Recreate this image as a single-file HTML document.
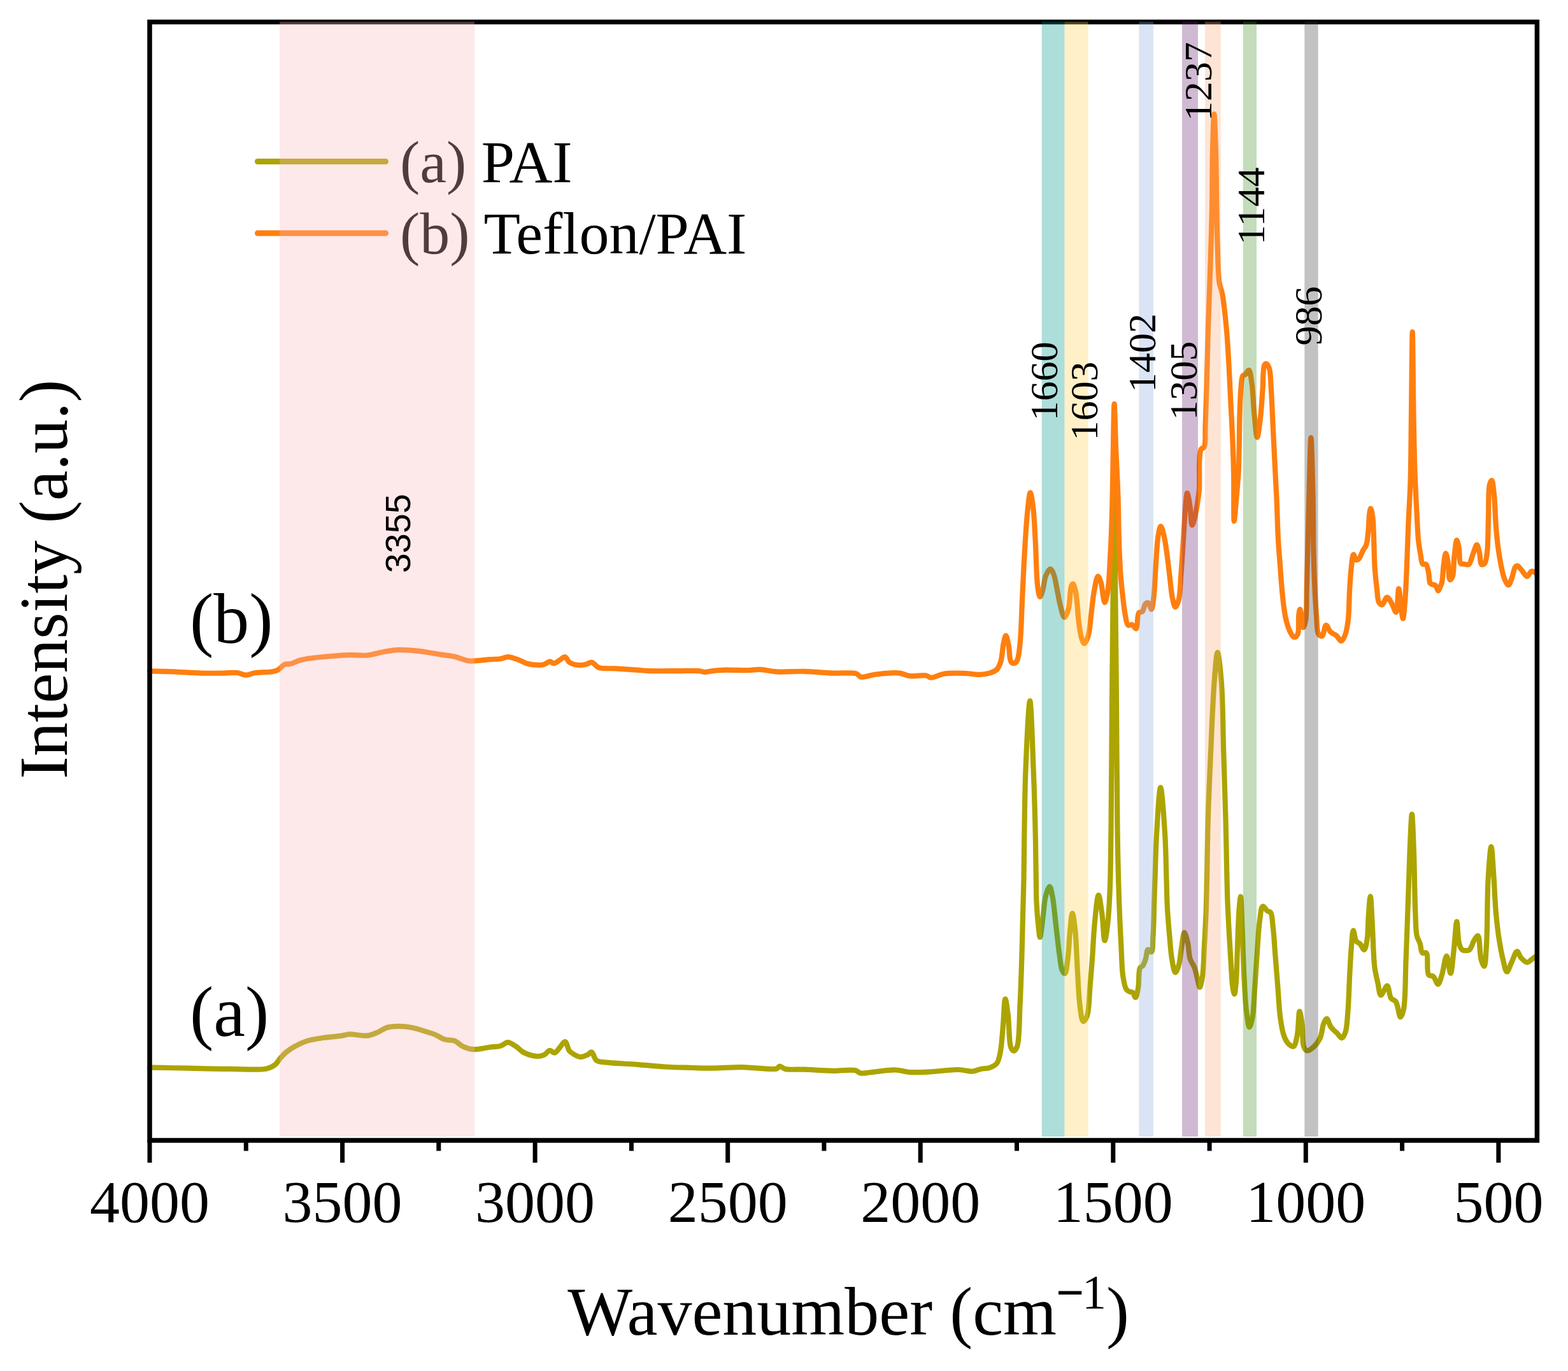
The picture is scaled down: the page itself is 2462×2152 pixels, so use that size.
<!DOCTYPE html>
<html><head><meta charset="utf-8"><style>
html,body{margin:0;padding:0;background:#fff;}
svg{display:block;}
text{font-family:"Liberation Serif","Times New Roman",serif;fill:#000;}
</style></head><body>
<svg width="2462" height="2152" viewBox="0 0 2462 2152">
<rect x="0" y="0" width="2462" height="2152" fill="#fff"/>

<path d="M235.0,1675.6C235.0,1675.6 275.1,1676.3 295.8,1676.7C317.3,1677.1 340.5,1677.7 361.7,1677.8C381.4,1677.9 406.7,1680.2 418.8,1677.4C424.9,1676.0 428.2,1674.1 431.9,1671.2C435.5,1668.3 437.7,1663.6 440.7,1660.2C443.5,1657.0 446.1,1654.3 449.5,1651.5C453.3,1648.4 457.7,1645.4 462.7,1642.7C468.5,1639.5 475.5,1636.1 482.4,1633.9C489.4,1631.7 496.3,1630.8 504.4,1629.5C514.2,1627.9 529.3,1626.9 537.3,1625.6C542.0,1624.9 543.8,1623.7 548.3,1623.4C555.6,1623.0 568.8,1626.5 576.8,1625.6C582.8,1624.9 587.2,1622.8 592.2,1620.7C597.4,1618.6 602.1,1614.6 607.5,1613.0C613.0,1611.3 618.9,1611.0 625.1,1610.9C632.0,1610.8 639.7,1611.6 647.0,1613.0C654.6,1614.4 663.4,1617.6 670.0,1619.6C675.0,1621.2 678.7,1622.1 683.2,1624.0C688.2,1626.1 693.3,1630.1 698.5,1631.7C703.5,1633.3 709.2,1632.1 713.9,1633.9C718.7,1635.7 722.4,1640.5 727.1,1642.7C731.9,1644.9 736.6,1646.6 742.4,1647.1C750.0,1647.7 760.9,1644.8 768.8,1643.8C775.2,1643.0 781.3,1643.1 786.3,1641.6C790.5,1640.3 793.5,1636.1 797.3,1636.1C801.5,1636.1 806.4,1640.1 810.5,1642.7C814.5,1645.2 816.8,1649.1 821.4,1651.5C827.2,1654.6 837.3,1657.7 843.4,1658.0C847.7,1658.2 851.1,1657.3 854.4,1655.8C857.7,1654.3 860.3,1649.1 863.2,1648.8C865.7,1648.5 868.4,1653.0 870.8,1652.6C873.5,1652.2 875.9,1647.7 878.5,1644.9C881.4,1641.8 884.8,1634.6 887.3,1635.0C890.0,1635.4 891.0,1645.7 893.9,1649.3C896.3,1652.3 899.7,1654.1 902.7,1655.8C905.5,1657.3 908.3,1659.0 911.4,1659.1C914.8,1659.2 919.3,1657.2 922.4,1655.8C925.0,1654.6 926.9,1651.0 929.0,1651.5C931.9,1652.2 932.7,1661.8 936.7,1664.6C941.1,1667.7 947.8,1667.0 955.3,1667.9C966.8,1669.3 984.6,1669.7 999.2,1670.8C1013.8,1671.9 1028.5,1673.6 1043.1,1674.5C1057.7,1675.4 1073.5,1675.6 1087.0,1676.0C1098.5,1676.3 1107.3,1676.8 1118.9,1676.7C1132.8,1676.6 1148.9,1675.1 1164.9,1675.1C1182.4,1675.1 1211.8,1680.1 1219.7,1677.3C1222.3,1676.4 1222.3,1673.7 1224.1,1673.5C1226.5,1673.2 1228.9,1676.9 1232.9,1677.9C1239.9,1679.6 1252.5,1678.2 1263.6,1678.6C1276.9,1679.1 1293.7,1680.6 1307.5,1680.8C1319.9,1681.0 1335.0,1678.4 1342.7,1680.1C1346.7,1681.0 1347.7,1683.8 1351.4,1684.5C1357.0,1685.5 1365.3,1683.0 1373.4,1682.3C1383.3,1681.4 1396.5,1679.1 1406.3,1679.5C1414.4,1679.8 1420.2,1682.4 1428.3,1683.0C1438.1,1683.7 1449.5,1682.9 1461.2,1682.3C1474.8,1681.6 1493.0,1678.7 1505.1,1679.0C1513.7,1679.2 1520.7,1682.2 1527.0,1681.7C1531.9,1681.3 1535.6,1678.9 1540.0,1678.0C1544.5,1677.0 1549.8,1677.5 1554.0,1676.0C1558.1,1674.5 1562.3,1672.7 1565.0,1669.3C1568.1,1665.4 1568.9,1659.9 1570.4,1653.2C1572.7,1642.7 1573.5,1626.0 1574.8,1612.1C1576.2,1597.7 1576.8,1568.1 1578.4,1568.0C1579.7,1567.9 1581.6,1584.1 1582.9,1594.3C1584.7,1608.3 1584.0,1636.3 1587.3,1644.3C1588.5,1647.3 1590.3,1649.6 1591.8,1649.6C1593.5,1649.5 1595.7,1646.4 1597.1,1642.5C1601.0,1631.9 1600.4,1598.9 1601.6,1576.4C1602.8,1553.1 1603.5,1528.8 1604.3,1505.0C1605.0,1481.2 1605.5,1455.7 1606.1,1433.6C1606.6,1414.5 1607.1,1399.7 1607.5,1380.0C1608.0,1355.8 1608.0,1326.9 1608.5,1299.0C1609.0,1269.3 1609.2,1238.8 1610.5,1207.0C1611.9,1172.7 1615.1,1100.0 1617.1,1100.0C1619.1,1100.0 1621.2,1172.7 1622.6,1207.0C1623.9,1238.8 1624.8,1269.3 1625.5,1299.0C1626.2,1326.9 1626.4,1358.5 1626.8,1380.0C1627.1,1394.3 1626.9,1403.8 1627.5,1415.7C1628.1,1427.6 1629.1,1441.3 1630.2,1451.4C1631.0,1458.9 1631.9,1471.1 1632.9,1471.1C1634.2,1471.1 1635.9,1452.6 1637.3,1442.5C1638.9,1431.3 1639.4,1416.1 1641.8,1406.8C1643.4,1400.5 1646.2,1391.5 1648.0,1391.6C1649.8,1391.7 1651.2,1400.3 1652.5,1406.8C1654.8,1417.7 1656.1,1436.5 1657.9,1451.4C1659.7,1466.3 1661.3,1483.1 1663.2,1496.1C1664.6,1506.2 1665.3,1517.6 1667.7,1522.9C1668.9,1525.6 1670.9,1528.5 1672.1,1528.2C1674.4,1527.6 1675.4,1514.0 1676.6,1505.0C1678.3,1492.6 1678.8,1473.4 1680.2,1460.4C1681.3,1450.3 1682.5,1433.6 1683.8,1433.6C1685.1,1433.6 1687.0,1449.6 1688.2,1460.4C1690.0,1476.9 1690.5,1502.9 1691.8,1522.9C1693.0,1541.4 1693.5,1561.7 1695.4,1576.4C1696.8,1586.9 1698.0,1602.6 1700.7,1603.2C1702.4,1603.6 1705.4,1598.7 1707.0,1594.3C1710.3,1585.3 1710.1,1564.5 1711.4,1549.6C1712.7,1534.7 1713.9,1520.6 1715.0,1505.0C1716.3,1488.0 1716.9,1468.6 1718.6,1451.4C1720.2,1435.3 1722.6,1405.1 1724.8,1405.0C1726.5,1405.0 1728.7,1423.1 1730.2,1433.6C1732.1,1446.4 1732.9,1476.3 1734.6,1476.4C1735.9,1476.5 1737.9,1461.3 1739.1,1451.4C1740.9,1437.0 1741.8,1418.4 1742.7,1397.9C1743.9,1370.2 1744.0,1338.4 1744.5,1300.0C1745.2,1245.1 1745.5,1161.9 1746.0,1100.0C1746.5,1046.4 1746.9,1002.3 1747.5,950.0C1748.1,892.7 1748.8,770.0 1749.5,770.0C1750.2,770.0 1750.9,892.7 1751.5,950.0C1752.1,1002.3 1752.5,1046.4 1753.0,1100.0C1753.5,1161.9 1753.8,1248.3 1754.5,1300.0C1754.9,1332.7 1755.5,1356.0 1756.1,1380.0C1756.6,1399.7 1757.2,1415.7 1757.9,1433.6C1758.6,1451.4 1759.6,1470.1 1760.5,1487.1C1761.3,1502.7 1761.3,1519.7 1763.2,1531.8C1764.5,1540.3 1765.8,1549.3 1768.6,1553.2C1770.1,1555.3 1772.1,1556.1 1773.9,1556.8C1775.4,1557.4 1777.1,1556.7 1778.4,1557.7C1780.3,1559.1 1781.6,1565.9 1782.9,1565.7C1784.7,1565.5 1786.2,1555.9 1787.3,1549.6C1788.8,1541.1 1787.3,1524.3 1790.0,1519.3C1791.2,1517.1 1793.2,1517.4 1794.5,1515.7C1796.4,1513.2 1797.6,1508.9 1798.9,1505.0C1800.3,1500.6 1800.4,1491.5 1802.5,1490.7C1803.9,1490.2 1806.6,1494.9 1807.9,1494.3C1810.5,1493.1 1809.8,1479.2 1810.5,1469.3C1811.5,1454.8 1811.8,1431.8 1812.3,1415.7C1812.7,1402.6 1813.0,1394.0 1813.5,1380.0C1814.2,1360.0 1814.7,1331.1 1816.2,1307.0C1817.6,1283.2 1820.1,1236.0 1822.2,1236.0C1824.3,1236.0 1827.5,1283.1 1829.0,1307.0C1830.6,1331.1 1830.8,1358.6 1831.5,1380.0C1832.0,1396.7 1832.1,1409.7 1832.9,1424.6C1833.7,1439.5 1835.1,1455.2 1836.4,1469.3C1837.5,1481.9 1838.2,1494.7 1840.0,1505.0C1841.4,1513.1 1843.3,1526.2 1845.4,1526.4C1847.0,1526.6 1849.2,1520.3 1850.7,1515.7C1853.0,1508.6 1853.6,1496.1 1855.2,1487.1C1856.6,1479.0 1857.8,1464.0 1859.6,1463.9C1861.1,1463.8 1863.6,1474.0 1865.0,1480.0C1866.7,1487.4 1866.4,1498.0 1868.6,1505.0C1870.3,1510.6 1873.7,1513.9 1875.7,1519.3C1878.0,1525.6 1879.6,1535.1 1881.1,1540.7C1882.1,1544.3 1882.8,1549.6 1883.8,1549.6C1885.1,1549.6 1887.1,1539.1 1888.2,1531.8C1889.9,1520.3 1890.0,1502.7 1890.9,1487.1C1891.8,1470.1 1892.9,1451.4 1893.6,1433.6C1894.3,1415.7 1894.5,1400.4 1895.0,1380.0C1895.6,1353.0 1895.8,1318.1 1896.8,1285.8C1897.8,1251.5 1899.5,1215.1 1901.1,1179.7C1902.7,1144.3 1904.2,1102.3 1906.4,1073.6C1907.9,1053.9 1909.8,1024.0 1911.7,1024.0C1913.6,1024.0 1916.5,1053.9 1918.0,1073.6C1920.2,1102.3 1920.1,1144.3 1921.2,1179.7C1922.3,1215.1 1923.6,1251.5 1924.5,1285.8C1925.3,1318.1 1925.9,1356.1 1926.5,1380.0C1926.9,1394.7 1927.0,1402.6 1927.5,1415.7C1928.1,1431.8 1929.3,1452.3 1930.2,1469.3C1931.1,1484.9 1932.0,1499.9 1932.9,1513.9C1933.7,1526.5 1934.2,1541.2 1935.5,1549.6C1936.3,1554.3 1937.4,1560.4 1938.2,1560.4C1939.3,1560.3 1940.2,1548.7 1940.9,1540.7C1942.0,1528.2 1942.1,1510.1 1942.8,1492.8C1943.6,1472.5 1944.4,1441.8 1945.7,1426.4C1946.4,1418.1 1947.3,1407.4 1948.0,1407.4C1949.0,1407.4 1949.6,1437.1 1950.4,1454.8C1951.4,1477.1 1952.1,1507.2 1953.3,1530.7C1954.4,1551.0 1955.2,1572.6 1957.1,1587.6C1958.4,1597.5 1960.0,1612.1 1961.8,1612.2C1963.2,1612.3 1965.3,1603.6 1966.6,1597.0C1968.8,1585.7 1969.1,1566.1 1970.3,1549.6C1971.6,1531.5 1972.8,1510.9 1974.1,1492.8C1975.3,1476.3 1976.0,1458.2 1977.9,1445.3C1979.2,1436.3 1979.8,1423.4 1982.7,1422.6C1984.6,1422.0 1987.9,1428.6 1990.3,1430.2C1991.9,1431.3 1993.7,1430.5 1995.0,1432.1C1997.7,1435.4 1997.7,1445.8 1998.8,1454.8C2000.4,1467.7 2001.3,1486.4 2002.6,1502.2C2003.9,1518.0 2005.1,1533.8 2006.4,1549.6C2007.7,1565.4 2008.3,1583.2 2010.2,1597.0C2011.7,1607.8 2013.1,1618.0 2015.9,1625.5C2017.9,1631.0 2020.4,1635.9 2023.4,1638.8C2025.6,1640.9 2029.0,1643.4 2031.0,1642.6C2034.0,1641.4 2035.2,1632.4 2036.7,1625.5C2038.9,1615.4 2038.9,1587.7 2040.5,1587.6C2041.6,1587.5 2043.3,1599.2 2044.3,1606.5C2045.7,1616.6 2044.5,1635.6 2047.1,1642.6C2048.3,1645.9 2049.7,1648.7 2051.9,1649.2C2054.7,1649.8 2060.0,1645.6 2063.3,1642.6C2067.0,1639.2 2070.4,1634.6 2072.8,1629.3C2075.7,1622.9 2076.1,1611.9 2078.4,1606.5C2079.8,1603.2 2081.6,1598.9 2083.2,1599.0C2085.3,1599.1 2087.0,1608.4 2089.8,1612.2C2092.4,1615.9 2096.3,1618.7 2099.3,1621.7C2102.0,1624.4 2104.7,1629.6 2106.9,1629.3C2109.1,1629.0 2111.1,1624.1 2112.6,1619.8C2115.1,1612.4 2115.4,1599.9 2116.4,1587.6C2117.8,1571.3 2118.2,1548.8 2119.2,1530.7C2120.1,1514.2 2120.9,1496.2 2122.1,1483.3C2122.9,1474.3 2123.5,1460.6 2124.9,1460.5C2126.1,1460.4 2127.1,1474.2 2129.6,1477.6C2131.1,1479.7 2133.5,1479.6 2135.3,1481.4C2137.7,1483.7 2140.2,1491.2 2142.0,1490.9C2144.2,1490.5 2145.6,1480.5 2146.7,1473.8C2148.2,1464.5 2147.8,1451.2 2148.6,1440.0C2149.4,1428.9 2150.7,1407.0 2151.7,1407.0C2152.8,1407.0 2153.7,1434.0 2154.7,1450.0C2155.9,1470.1 2156.3,1500.9 2158.4,1517.9C2159.7,1528.2 2161.6,1534.8 2163.3,1542.5C2164.9,1549.4 2165.6,1561.6 2168.2,1562.1C2170.6,1562.5 2175.5,1547.0 2178.1,1547.4C2180.9,1547.8 2181.1,1562.9 2184.2,1567.0C2186.2,1569.7 2189.5,1569.2 2191.6,1572.0C2195.1,1576.8 2196.6,1596.4 2199.0,1596.5C2200.7,1596.6 2202.6,1590.2 2203.9,1584.2C2207.1,1569.5 2206.4,1533.3 2207.6,1505.6C2208.9,1474.7 2210.1,1437.8 2211.2,1407.4C2212.1,1381.1 2212.7,1356.5 2213.7,1333.7C2214.6,1313.8 2215.9,1278.0 2216.9,1278.0C2217.9,1278.0 2219.0,1312.5 2219.8,1333.7C2220.9,1361.8 2221.2,1407.1 2222.3,1432.0C2223.0,1447.2 2222.7,1459.9 2224.7,1468.8C2225.9,1474.1 2228.3,1476.8 2229.7,1481.1C2231.2,1485.7 2230.9,1493.9 2233.3,1495.8C2234.9,1497.0 2237.9,1494.4 2239.5,1495.8C2243.3,1499.2 2239.3,1525.3 2243.2,1530.2C2245.0,1532.5 2248.3,1531.0 2250.5,1532.7C2253.5,1535.1 2255.7,1545.1 2257.9,1544.9C2260.2,1544.7 2262.1,1536.0 2264.0,1530.2C2266.7,1522.1 2269.1,1500.7 2271.4,1500.7C2273.6,1500.7 2275.8,1527.8 2277.6,1527.7C2279.6,1527.6 2281.0,1505.7 2282.5,1493.4C2284.3,1479.0 2285.9,1446.7 2287.4,1446.7C2288.7,1446.7 2288.8,1473.3 2291.1,1481.1C2292.4,1485.5 2293.4,1489.3 2296.0,1490.9C2298.7,1492.5 2304.1,1492.7 2307.0,1490.9C2310.6,1488.7 2311.8,1480.2 2314.4,1476.2C2316.4,1473.2 2318.9,1468.3 2320.5,1468.8C2323.7,1469.7 2323.1,1497.0 2325.5,1505.6C2326.9,1510.5 2329.1,1516.9 2330.4,1516.7C2332.6,1516.3 2333.1,1495.9 2334.1,1481.1C2335.7,1456.5 2334.9,1410.6 2336.5,1382.8C2337.7,1362.2 2339.9,1329.0 2341.4,1329.0C2342.7,1329.0 2344.0,1355.3 2345.1,1370.5C2346.5,1389.0 2347.2,1413.5 2348.8,1432.0C2350.2,1447.3 2351.7,1460.8 2353.7,1473.7C2355.5,1485.1 2357.5,1496.3 2359.8,1505.6C2361.7,1513.0 2363.6,1525.1 2366.0,1525.3C2368.2,1525.5 2370.8,1515.7 2373.4,1510.6C2376.2,1505.1 2379.3,1493.5 2382.0,1493.4C2384.1,1493.3 2385.5,1500.4 2388.1,1503.2C2390.8,1506.1 2394.8,1510.5 2397.9,1510.6C2400.5,1510.7 2402.9,1507.3 2405.3,1505.6C2407.6,1504.0 2412.0,1500.7 2412.0,1500.7" fill="none" stroke="#aca400" stroke-width="8.2" stroke-linejoin="round" stroke-linecap="round"/>
<path d="M235.0,1053.3C235.0,1053.3 260.5,1053.9 273.9,1054.4C288.1,1055.0 304.2,1056.3 317.8,1056.6C329.6,1056.9 340.8,1056.7 350.7,1056.6C358.8,1056.5 366.4,1055.2 372.7,1056.0C377.7,1056.6 381.2,1059.6 385.8,1059.7C390.7,1059.8 395.3,1056.9 401.2,1056.0C408.8,1054.8 421.1,1055.3 427.5,1054.2C431.3,1053.5 433.4,1053.1 436.3,1051.6C439.9,1049.7 443.6,1044.3 447.3,1042.8C450.2,1041.7 452.7,1042.8 456.0,1042.1C460.5,1041.1 465.7,1037.7 471.4,1036.2C478.0,1034.4 486.1,1033.5 493.4,1032.5C500.7,1031.5 507.2,1031.0 515.3,1030.3C525.2,1029.5 537.7,1028.4 548.3,1028.1C558.1,1027.8 567.5,1029.4 576.8,1028.5C585.8,1027.6 594.7,1024.4 603.1,1023.0C610.7,1021.7 617.7,1020.5 625.0,1020.2C632.3,1019.9 639.6,1020.3 647.0,1020.9C654.6,1021.5 662.4,1022.6 670.0,1023.7C677.4,1024.8 684.7,1026.2 692.0,1027.4C699.3,1028.6 706.7,1029.1 713.9,1030.7C721.3,1032.4 730.1,1036.5 735.8,1037.3C739.3,1037.8 740.9,1037.5 744.6,1037.3C750.7,1037.0 761.4,1035.7 768.8,1035.1C775.1,1034.6 781.2,1034.8 786.3,1034.0C790.4,1033.4 793.3,1031.2 797.3,1031.2C802.0,1031.2 807.6,1033.4 812.7,1035.1C817.9,1036.9 822.6,1040.2 828.0,1041.7C833.6,1043.2 840.7,1043.9 845.6,1043.9C849.0,1043.9 851.5,1043.7 854.4,1042.8C857.4,1041.9 860.5,1038.5 863.2,1038.4C865.5,1038.3 867.4,1041.4 869.7,1041.3C872.4,1041.2 875.6,1037.9 878.5,1036.2C881.4,1034.5 884.8,1030.7 887.3,1031.2C889.9,1031.7 890.9,1037.4 893.9,1039.5C897.3,1041.9 902.6,1043.4 907.0,1043.9C911.3,1044.4 916.3,1043.7 920.2,1042.8C923.5,1042.1 926.0,1039.1 929.0,1039.5C932.6,1040.0 935.2,1046.0 940.0,1047.8C946.6,1050.2 957.0,1048.8 966.3,1049.4C976.7,1050.1 989.3,1050.9 999.2,1051.6C1007.3,1052.1 1012.6,1052.8 1021.2,1053.1C1033.3,1053.5 1051.5,1053.1 1065.1,1053.1C1076.9,1053.1 1090.5,1052.3 1098.0,1053.1C1101.9,1053.5 1103.6,1054.8 1106.8,1054.9C1110.5,1055.0 1114.4,1053.6 1118.9,1053.1C1124.6,1052.5 1130.9,1051.8 1138.5,1051.6C1148.9,1051.3 1165.7,1052.3 1175.8,1052.0C1182.8,1051.8 1187.0,1050.7 1193.4,1050.9C1201.3,1051.2 1209.8,1053.8 1219.7,1054.4C1232.4,1055.2 1249.0,1053.4 1263.6,1053.8C1278.2,1054.2 1293.4,1056.0 1307.5,1056.6C1320.5,1057.2 1337.8,1054.9 1344.9,1057.5C1348.2,1058.7 1348.4,1061.8 1351.4,1062.6C1356.4,1063.9 1366.1,1059.8 1373.4,1058.8C1380.7,1057.8 1388.4,1056.9 1395.3,1056.6C1401.5,1056.3 1407.3,1055.8 1412.9,1056.6C1418.3,1057.4 1422.4,1060.2 1428.3,1061.0C1435.8,1062.0 1448.8,1059.1 1454.6,1060.4C1457.6,1061.1 1458.3,1063.4 1461.2,1063.7C1466.3,1064.2 1475.0,1058.7 1483.1,1057.5C1492.9,1056.1 1506.1,1056.7 1516.0,1057.0C1524.1,1057.3 1531.2,1059.0 1538.0,1058.8C1543.9,1058.6 1549.5,1057.9 1554.3,1056.4C1558.4,1055.1 1562.2,1053.8 1565.0,1051.0C1568.0,1048.0 1569.6,1043.7 1571.3,1038.6C1573.7,1031.2 1574.0,1017.5 1575.7,1010.0C1576.8,1004.9 1578.0,997.5 1579.3,997.5C1580.7,997.5 1582.5,1007.6 1583.8,1013.6C1585.3,1021.0 1584.7,1034.6 1587.3,1038.6C1588.5,1040.4 1590.3,1041.4 1591.8,1041.3C1593.5,1041.2 1595.6,1039.3 1597.0,1036.8C1599.8,1031.8 1600.4,1021.1 1601.6,1010.0C1603.6,992.0 1604.0,962.4 1605.2,938.6C1606.4,914.8 1607.4,890.0 1608.8,867.0C1610.1,845.5 1611.4,821.8 1613.2,804.6C1614.5,792.4 1616.1,773.4 1617.7,773.4C1619.1,773.4 1620.9,786.6 1622.1,795.7C1623.9,809.7 1624.6,830.1 1625.7,849.3C1627.0,871.4 1627.2,905.4 1629.3,920.7C1630.3,928.0 1631.4,936.7 1632.9,936.8C1634.2,936.9 1636.0,930.3 1637.3,926.0C1639.1,920.1 1639.5,910.5 1641.8,904.6C1643.6,900.0 1646.7,893.0 1648.9,893.0C1650.8,893.0 1652.8,897.5 1654.3,901.0C1656.7,906.6 1657.9,916.3 1659.6,924.3C1661.4,932.9 1662.8,943.0 1665.0,951.0C1666.8,957.7 1669.0,968.9 1671.3,969.0C1673.2,969.1 1675.9,961.8 1677.5,956.4C1680.1,947.7 1679.9,926.8 1682.0,920.7C1682.8,918.4 1683.7,916.2 1684.6,916.3C1686.1,916.5 1687.8,923.8 1689.1,929.6C1691.4,940.0 1691.9,961.3 1693.6,974.3C1694.9,984.4 1695.9,994.6 1698.0,1001.0C1699.3,1004.9 1700.9,1010.0 1702.5,1010.0C1704.4,1010.0 1707.2,1002.8 1708.8,997.5C1711.3,989.4 1711.8,976.4 1713.2,965.4C1714.7,953.8 1715.7,940.4 1717.7,929.6C1719.4,920.5 1721.6,904.9 1723.9,904.6C1725.3,904.4 1727.0,909.6 1728.4,913.6C1730.9,920.9 1732.5,945.6 1734.6,945.7C1736.1,945.8 1737.8,936.8 1739.1,929.6C1741.5,915.7 1742.4,888.6 1743.6,867.1C1744.9,844.1 1745.6,821.2 1746.3,795.7C1747.1,766.1 1747.4,728.9 1748.0,700.0C1748.5,676.0 1748.9,634.0 1749.6,634.0C1750.3,634.0 1751.1,676.9 1752.0,700.0C1753.0,725.4 1754.7,754.3 1755.5,780.0C1756.3,803.9 1756.2,827.7 1757.0,849.3C1757.7,868.3 1758.4,886.9 1759.6,902.9C1760.6,916.0 1761.9,927.6 1763.2,938.6C1764.3,948.2 1765.2,957.7 1766.8,965.4C1768.1,971.5 1768.6,979.7 1771.3,981.4C1772.9,982.5 1775.6,979.9 1777.5,980.5C1779.8,981.3 1782.2,987.3 1783.8,986.8C1786.6,985.9 1785.1,965.3 1788.2,961.8C1789.6,960.1 1792.1,961.4 1793.6,960.0C1796.0,957.8 1796.6,949.4 1798.9,947.5C1800.2,946.4 1802.1,945.9 1803.4,946.6C1805.4,947.6 1806.7,956.5 1807.9,956.4C1809.5,956.2 1810.4,946.2 1811.4,938.6C1813.1,925.6 1813.7,902.0 1815.0,885.0C1816.1,869.4 1816.7,851.1 1818.6,840.4C1819.7,834.2 1821.0,826.1 1822.5,826.0C1824.0,825.9 1826.1,834.8 1827.5,840.4C1829.4,847.9 1830.6,857.5 1832.0,867.1C1833.6,878.1 1834.9,891.0 1836.4,902.9C1837.9,914.8 1838.9,929.4 1840.9,938.6C1842.2,944.5 1843.7,952.8 1845.4,952.9C1847.0,953.0 1849.3,947.0 1850.7,942.1C1853.2,933.3 1853.2,917.0 1854.3,902.9C1855.6,886.4 1856.7,867.2 1857.9,849.3C1859.1,831.4 1860.1,809.6 1861.4,795.7C1862.2,786.8 1862.9,774.0 1864.1,774.0C1865.3,774.0 1867.4,787.9 1868.6,795.7C1870.0,804.5 1870.1,824.1 1871.8,824.3C1872.9,824.4 1874.6,817.7 1875.7,813.6C1877.1,808.4 1878.2,802.3 1879.3,795.7C1880.6,787.7 1882.1,779.2 1882.9,768.9C1883.9,755.1 1882.5,731.6 1883.5,720.0C1884.1,713.5 1884.1,708.0 1886.0,705.0C1887.2,703.1 1889.5,703.8 1890.7,701.7C1893.6,696.5 1892.0,680.4 1892.6,667.6C1893.3,651.1 1893.9,631.0 1894.5,610.7C1895.2,587.2 1895.7,558.3 1896.4,534.8C1897.0,514.5 1897.6,498.9 1898.3,477.9C1899.2,451.8 1900.5,417.8 1901.3,390.0C1902.1,365.0 1902.8,342.4 1903.2,318.6C1903.6,294.8 1903.3,270.6 1903.8,247.0C1904.3,224.0 1905.4,179.0 1906.3,179.0C1907.2,179.0 1908.6,224.0 1909.2,247.0C1909.9,270.6 1909.8,294.8 1910.2,318.6C1910.6,342.4 1911.0,367.9 1911.8,390.0C1912.5,409.2 1912.5,430.7 1914.5,443.6C1915.7,451.0 1917.7,453.4 1919.1,460.9C1921.6,474.0 1924.0,497.4 1925.7,515.9C1927.5,534.7 1928.4,553.8 1929.5,572.8C1930.6,591.7 1931.4,610.7 1932.3,629.6C1933.3,648.6 1934.4,667.5 1935.2,686.5C1936.0,705.5 1936.7,723.1 1937.1,743.4C1937.6,766.6 1936.7,818.0 1937.8,818.0C1938.6,818.0 1940.4,792.8 1941.5,780.0C1942.7,766.8 1944.0,752.8 1944.7,740.0C1945.3,728.1 1945.3,718.4 1945.6,705.5C1946.0,688.9 1946.0,665.6 1946.6,648.6C1947.1,634.7 1947.4,621.4 1948.4,610.7C1949.1,602.7 1949.1,592.9 1951.3,589.8C1952.3,588.4 1953.8,588.9 1955.1,587.9C1957.0,586.4 1959.2,580.6 1960.8,581.0C1963.2,581.6 1964.2,593.0 1965.5,601.2C1967.4,613.6 1967.8,633.7 1969.3,648.6C1970.7,662.0 1972.3,686.5 1974.0,686.5C1975.5,686.5 1977.5,668.8 1978.8,658.1C1980.5,644.3 1981.5,625.6 1982.6,610.7C1983.6,597.4 1982.7,577.3 1985.4,572.8C1986.2,571.5 1987.3,570.8 1988.3,571.0C1989.9,571.4 1991.8,574.9 1993.0,578.4C1995.3,585.2 1995.0,598.4 1995.9,610.7C1997.0,627.0 1997.8,648.6 1998.7,667.6C1999.6,686.6 2000.5,705.7 2001.5,724.5C2002.4,743.1 2003.5,760.5 2004.4,780.0C2005.4,801.8 2006.0,830.0 2007.1,849.3C2007.9,863.2 2008.9,873.1 2009.8,885.0C2010.7,896.9 2011.5,909.7 2012.5,920.7C2013.3,930.3 2014.1,938.9 2015.2,947.5C2016.2,955.5 2017.1,963.3 2018.8,970.7C2020.4,977.6 2022.4,985.1 2025.0,990.4C2027.0,994.4 2029.7,999.9 2032.1,1000.2C2033.9,1000.4 2036.2,998.3 2037.5,995.7C2040.2,990.3 2038.4,972.5 2039.3,965.4C2039.8,961.5 2040.4,956.4 2041.1,956.4C2041.9,956.4 2043.0,963.1 2043.8,967.1C2044.8,972.3 2045.2,984.9 2046.4,985.0C2047.4,985.1 2049.1,979.3 2050.0,974.3C2052.0,963.4 2051.2,939.8 2051.8,920.7C2052.4,898.6 2053.0,873.1 2053.6,849.3C2054.2,825.5 2054.7,803.1 2055.4,777.9C2056.2,749.4 2057.4,687.0 2058.4,687.0C2059.4,687.0 2060.8,747.7 2061.5,777.9C2062.2,807.8 2061.9,841.1 2062.5,867.1C2063.0,887.2 2063.5,903.6 2064.3,920.7C2065.0,936.3 2065.8,952.0 2067.0,965.4C2068.0,976.5 2067.3,991.2 2070.5,995.7C2071.9,997.7 2074.3,999.0 2075.9,998.4C2078.6,997.3 2079.6,981.7 2082.1,981.4C2084.2,981.1 2086.4,989.4 2089.3,992.1C2091.9,994.6 2095.5,995.3 2098.2,997.5C2101.1,999.9 2103.6,1006.2 2105.9,1006.1C2108.1,1006.0 2110.1,1001.4 2111.7,997.7C2114.1,992.0 2115.5,983.6 2116.7,974.3C2118.5,960.8 2118.2,939.1 2119.2,924.1C2120.0,911.8 2120.6,900.3 2121.8,890.6C2122.7,883.0 2123.4,870.8 2125.1,870.5C2126.2,870.3 2127.5,878.2 2129.3,878.9C2130.5,879.4 2132.2,878.4 2133.5,877.2C2135.9,875.0 2138.1,867.7 2140.2,863.8C2141.9,860.7 2143.9,859.1 2145.2,855.5C2147.2,849.8 2147.7,840.0 2148.5,832.0C2149.4,823.8 2149.3,813.1 2150.2,806.9C2150.7,803.2 2151.4,798.0 2152.2,798.0C2153.1,798.0 2154.4,805.3 2155.2,810.3C2156.4,818.1 2156.4,829.1 2156.9,840.4C2157.6,855.0 2157.6,875.6 2158.6,890.6C2159.4,902.9 2160.6,914.1 2161.9,924.1C2162.9,932.2 2162.8,942.0 2165.3,945.9C2166.6,947.9 2168.6,949.6 2170.3,949.2C2172.8,948.7 2175.2,937.6 2177.8,937.5C2180.3,937.4 2183.1,943.8 2185.4,947.5C2187.9,951.5 2190.3,961.2 2192.0,960.9C2194.7,960.4 2194.8,924.1 2196.2,924.1C2197.6,924.1 2199.1,949.0 2200.4,957.6C2201.3,963.1 2202.1,971.0 2202.9,971.0C2204.1,971.0 2205.4,952.2 2206.3,940.8C2207.5,926.2 2208.0,908.5 2208.8,890.6C2209.7,869.9 2210.4,846.0 2211.3,823.7C2212.3,801.4 2213.7,781.6 2214.5,756.7C2215.5,725.3 2215.5,687.3 2216.0,650.0C2216.6,609.0 2217.1,521.0 2217.7,521.0C2218.3,521.0 2218.8,610.9 2219.5,650.0C2220.1,682.7 2220.6,714.4 2221.5,740.0C2222.2,759.2 2223.1,775.2 2223.8,790.2C2224.4,802.5 2224.9,813.3 2225.5,823.7C2226.0,832.7 2226.3,840.8 2227.2,848.8C2228.0,856.3 2229.3,863.9 2230.5,870.5C2231.5,876.0 2231.6,883.8 2233.9,885.6C2235.2,886.6 2237.5,884.6 2238.9,885.6C2241.2,887.3 2242.0,894.2 2243.1,899.0C2244.3,904.2 2243.7,913.1 2245.6,915.7C2246.5,916.9 2247.7,916.9 2249.0,917.4C2250.5,918.0 2252.6,917.9 2254.0,919.1C2255.9,920.7 2256.9,927.4 2258.2,927.4C2259.2,927.4 2260.1,924.0 2261.0,922.0C2262.1,919.6 2263.2,917.6 2264.0,914.1C2265.5,907.9 2265.6,895.5 2266.7,887.4C2267.6,880.6 2268.7,868.7 2270.0,868.6C2271.0,868.5 2272.4,875.7 2273.4,880.7C2274.9,888.3 2274.4,909.5 2276.7,910.1C2277.8,910.4 2279.7,907.5 2280.8,904.8C2283.1,898.9 2282.2,883.8 2283.4,874.0C2284.5,864.9 2285.9,848.0 2287.4,847.9C2288.5,847.8 2289.9,855.7 2290.8,860.6C2292.1,867.3 2290.7,881.8 2293.5,884.7C2294.8,886.1 2296.9,885.2 2298.8,885.4C2301.1,885.6 2304.2,887.2 2306.2,886.0C2309.2,884.2 2310.1,876.3 2312.2,871.3C2314.4,866.1 2317.0,855.1 2318.9,855.2C2320.5,855.3 2321.7,862.8 2322.9,867.3C2324.3,872.8 2323.9,884.5 2326.3,886.0C2327.5,886.8 2329.7,886.0 2331.0,884.7C2333.4,882.2 2334.0,874.7 2335.0,867.3C2336.7,854.4 2336.3,831.6 2337.0,813.7C2337.7,795.9 2336.6,769.1 2339.0,760.2C2339.9,757.0 2341.4,753.8 2342.3,754.0C2343.9,754.3 2344.7,765.4 2345.7,773.6C2347.3,787.0 2347.7,811.4 2349.0,827.1C2350.0,839.6 2351.0,850.4 2352.4,860.6C2353.6,869.3 2354.8,876.8 2356.4,884.7C2358.0,892.4 2359.3,901.4 2361.8,907.4C2363.6,911.8 2366.4,918.3 2368.4,918.2C2370.4,918.1 2372.2,911.5 2373.8,907.4C2375.8,902.4 2377.0,892.8 2379.2,890.0C2380.2,888.7 2381.3,887.9 2382.5,888.0C2384.3,888.2 2386.3,891.7 2388.5,894.1C2391.3,897.1 2395.1,904.8 2397.9,904.8C2400.3,904.8 2402.1,897.3 2404.6,896.7C2406.7,896.2 2411.3,899.4 2411.3,899.4" fill="none" stroke="#ff7f0e" stroke-width="8.2" stroke-linejoin="round" stroke-linecap="round"/>
<line x1="404.5" y1="253.5" x2="605.5" y2="253.5" stroke="#aca400" stroke-width="9" stroke-linecap="round"/>
<line x1="404.5" y1="366" x2="605.5" y2="366" stroke="#ff7f0e" stroke-width="9" stroke-linecap="round"/>
<text x="628" y="286" font-size="94">(a) PAI</text>
<text x="628" y="398" font-size="94">(b) Teflon/PAI</text>
<text x="298" y="1008.6" font-size="112">(b)</text>
<text x="298" y="1626" font-size="112">(a)</text>
<rect x="235.0" y="34.5" width="2178.4" height="1755.5" fill="none" stroke="#000" stroke-width="7.5"/>
<line x1="235.0" y1="1790.0" x2="235.0" y2="1825.0" stroke="#000" stroke-width="7"/>
<text x="235.0" y="1918" font-size="94" text-anchor="middle">4000</text>
<line x1="386.3" y1="1790.0" x2="386.3" y2="1806.5" stroke="#000" stroke-width="7"/>
<line x1="537.6" y1="1790.0" x2="537.6" y2="1825.0" stroke="#000" stroke-width="7"/>
<text x="537.6" y="1918" font-size="94" text-anchor="middle">3500</text>
<line x1="688.8" y1="1790.0" x2="688.8" y2="1806.5" stroke="#000" stroke-width="7"/>
<line x1="840.1" y1="1790.0" x2="840.1" y2="1825.0" stroke="#000" stroke-width="7"/>
<text x="840.1" y="1918" font-size="94" text-anchor="middle">3000</text>
<line x1="991.4" y1="1790.0" x2="991.4" y2="1806.5" stroke="#000" stroke-width="7"/>
<line x1="1142.7" y1="1790.0" x2="1142.7" y2="1825.0" stroke="#000" stroke-width="7"/>
<text x="1142.7" y="1918" font-size="94" text-anchor="middle">2500</text>
<line x1="1293.9" y1="1790.0" x2="1293.9" y2="1806.5" stroke="#000" stroke-width="7"/>
<line x1="1445.2" y1="1790.0" x2="1445.2" y2="1825.0" stroke="#000" stroke-width="7"/>
<text x="1445.2" y="1918" font-size="94" text-anchor="middle">2000</text>
<line x1="1596.5" y1="1790.0" x2="1596.5" y2="1806.5" stroke="#000" stroke-width="7"/>
<line x1="1747.8" y1="1790.0" x2="1747.8" y2="1825.0" stroke="#000" stroke-width="7"/>
<text x="1747.8" y="1918" font-size="94" text-anchor="middle">1500</text>
<line x1="1899.1" y1="1790.0" x2="1899.1" y2="1806.5" stroke="#000" stroke-width="7"/>
<line x1="2050.3" y1="1790.0" x2="2050.3" y2="1825.0" stroke="#000" stroke-width="7"/>
<text x="2050.3" y="1918" font-size="94" text-anchor="middle">1000</text>
<line x1="2201.6" y1="1790.0" x2="2201.6" y2="1806.5" stroke="#000" stroke-width="7"/>
<line x1="2352.9" y1="1790.0" x2="2352.9" y2="1825.0" stroke="#000" stroke-width="7"/>
<text x="2352.9" y="1918" font-size="94" text-anchor="middle">500</text>
<text x="1332" y="2095" font-size="108" text-anchor="middle">Wavenumber (cm<tspan dy="-41" font-size="74" stroke="#000" stroke-width="1.8">−</tspan><tspan font-size="76" dx="-2">1</tspan><tspan dy="41">)</tspan></text>
<text transform="translate(105,909.3) rotate(-90)" font-size="107" text-anchor="middle">Intensity (a.u.)</text>
<rect x="439" y="34.3" width="306.0" height="1749.7" fill="#f9b7bd" fill-opacity="0.32"/>
<rect x="1635.7" y="34.3" width="35.8" height="1749.7" fill="#00988b" fill-opacity="0.32"/>
<rect x="1671.5" y="34.3" width="37.2" height="1749.7" fill="#ffd053" fill-opacity="0.32"/>
<rect x="1788.3" y="34.3" width="22.7" height="1749.7" fill="#8babdd" fill-opacity="0.32"/>
<rect x="1856" y="34.3" width="25.0" height="1749.7" fill="#6c2472" fill-opacity="0.32"/>
<rect x="1892" y="34.3" width="24.8" height="1749.7" fill="#f9ab79" fill-opacity="0.32"/>
<rect x="1951.7" y="34.3" width="21.3" height="1749.7" fill="#47922e" fill-opacity="0.32"/>
<rect x="2048.3" y="34.3" width="21.3" height="1749.7" fill="#404040" fill-opacity="0.32"/>
<text transform="translate(1659.5,598.4) rotate(-90)" font-size="62" text-anchor="middle">1660</text>
<text transform="translate(1722.7,629.5) rotate(-90)" font-size="62" text-anchor="middle">1603</text>
<text transform="translate(1814.0,553.9) rotate(-90)" font-size="62" text-anchor="middle">1402</text>
<text transform="translate(1878.5,597.5) rotate(-90)" font-size="62" text-anchor="middle">1305</text>
<text transform="translate(1902.1,127.9) rotate(-90)" font-size="62" text-anchor="middle">1237</text>
<text transform="translate(1984.6,323.3) rotate(-90)" font-size="62" text-anchor="middle">1144</text>
<text transform="translate(2075.2,496.0) rotate(-90)" font-size="62" text-anchor="middle">986</text>
<text transform="translate(643.5,837.3) rotate(-90)" font-size="56" text-anchor="middle" style="font-family:'Liberation Sans',Arial,sans-serif">3355</text>
</svg></body></html>
